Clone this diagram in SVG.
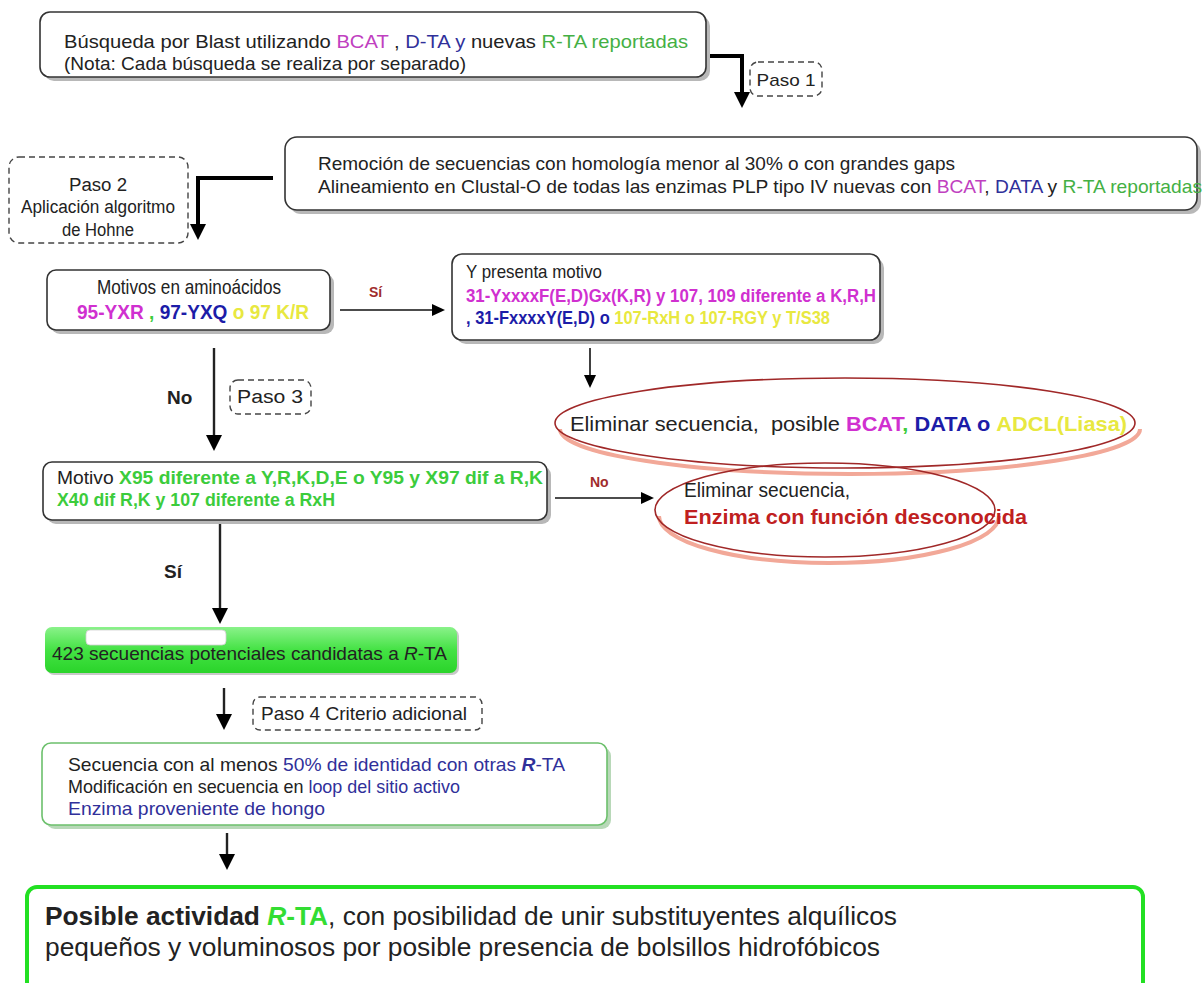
<svg xmlns="http://www.w3.org/2000/svg" width="1203" height="983" viewBox="0 0 1203 983">
  <defs>
    <style>
      text { font-family: "Liberation Sans", Arial, sans-serif; fill: #222; }
      .box { fill: #fff; stroke: #333; stroke-width: 1.6; }
      .shadow { fill: #b8b8b8; }
      .dash { fill: #fff; stroke: #444; stroke-width: 1.4; stroke-dasharray: 6 4; }
      .thick { fill: none; stroke: #000; stroke-width: 4; }
      .thin { fill: none; stroke: #111; stroke-width: 1.6; }
      .mid { fill: none; stroke: #222; stroke-width: 2.4; }
      .ell { fill: none; stroke: #a02828; stroke-width: 1.6; }
      .ellsh { fill: none; stroke: #f2a898; stroke-width: 4; }
      .b { font-weight: bold; }
      .mag { fill: #c040c0; }
      .blu { fill: #30309a; }
      .grn { fill: #44b044; }
      .bmag { fill: #d030d0; }
      .bblu { fill: #1c1ca8; }
      .byel { fill: #e8e840; }
      .bgrn { fill: #3ccc3c; }
      .red { fill: #c02020; }
      .dred { fill: #a02c2c; }
    </style>
    <marker id="ahBig" markerUnits="userSpaceOnUse" markerWidth="18" markerHeight="16" refX="1" refY="8" orient="auto">
      <path d="M0,0 L16,8 L0,16 Z" fill="#000"/>
    </marker>
    <marker id="ahSmall" markerUnits="userSpaceOnUse" markerWidth="14" markerHeight="12" refX="1" refY="6" orient="auto">
      <path d="M0,0 L13,6 L0,12 Z" fill="#000"/>
    </marker>
    <linearGradient id="greenFill" x1="0" y1="0" x2="0" y2="1">
      <stop offset="0" stop-color="#8af28a"/>
      <stop offset="0.5" stop-color="#44e244"/>
      <stop offset="1" stop-color="#2ad42a"/>
    </linearGradient>
  </defs>

  <!-- connectors -->
  <g id="connectors">
    <polyline class="thick" points="708,56 742,56 742,93" marker-end="url(#ahBig)"/>
    <polyline class="thick" points="273,178 198,178 198,225" marker-end="url(#ahBig)"/>
    <line class="thin" x1="340" y1="310" x2="433" y2="310" marker-end="url(#ahSmall)"/>
    <line class="thin" x1="590" y1="348" x2="590" y2="376" marker-end="url(#ahSmall)"/>
    <line class="mid" x1="214" y1="348" x2="214" y2="436" marker-end="url(#ahBig)"/>
    <line class="thin" x1="555" y1="498" x2="642" y2="498" marker-end="url(#ahSmall)"/>
    <line class="mid" x1="220" y1="522" x2="220" y2="609" marker-end="url(#ahBig)"/>
    <line class="mid" x1="224" y1="688" x2="224" y2="715" marker-end="url(#ahBig)"/>
    <line class="mid" x1="227" y1="833" x2="227" y2="855" marker-end="url(#ahBig)"/>
    <text class="b dred" x="369" y="297" font-size="14">Sí</text>
    <text class="b" x="167" y="404" font-size="19">No</text>
    <text class="b dred" x="590" y="487" font-size="14">No</text>
    <text class="b" x="164" y="578" font-size="19">Sí</text>
  </g>

  <!-- step labels -->
  <g id="paso1">
    <rect class="dash" x="750" y="62" width="72" height="34" rx="8"/>
    <text x="786" y="86" font-size="17" text-anchor="middle" textLength="59" lengthAdjust="spacingAndGlyphs">Paso 1</text>
  </g>
  <g id="paso2">
    <rect class="dash" x="9" y="157" width="179" height="86" rx="10"/>
    <text x="98" y="191" font-size="18" text-anchor="middle" textLength="58" lengthAdjust="spacingAndGlyphs">Paso 2</text>
    <text x="98" y="213" font-size="18" text-anchor="middle" textLength="154" lengthAdjust="spacingAndGlyphs">Aplicación algoritmo</text>
    <text x="98" y="236" font-size="18" text-anchor="middle" textLength="72" lengthAdjust="spacingAndGlyphs">de Hohne</text>
  </g>
  <g id="paso3">
    <rect class="dash" x="230" y="380" width="81" height="34" rx="8"/>
    <text x="270" y="403" font-size="18" text-anchor="middle" textLength="66" lengthAdjust="spacingAndGlyphs">Paso 3</text>
  </g>
  <g id="paso4">
    <rect class="dash" x="253" y="697" width="229" height="33" rx="7"/>
    <text x="261" y="720" font-size="19" textLength="206" lengthAdjust="spacingAndGlyphs">Paso 4 Criterio adicional</text>
  </g>

  <!-- blast search -->
  <g id="busqueda">
    <rect class="shadow" x="44" y="16" width="666" height="65" rx="10"/>
    <rect class="box" x="40" y="12" width="666" height="65" rx="10"/>
    <text x="64" y="48" font-size="19" textLength="624" lengthAdjust="spacingAndGlyphs">Búsqueda por Blast utilizando <tspan class="mag">BCAT</tspan> , <tspan class="blu">D-TA y</tspan> nuevas <tspan class="grn">R-TA reportadas</tspan></text>
    <text x="64" y="70" font-size="19" textLength="402" lengthAdjust="spacingAndGlyphs">(Nota: Cada búsqueda se realiza por separado)</text>
  </g>

  <!-- filtering and alignment -->
  <g id="remocion">
    <rect class="shadow" x="289" y="141" width="912" height="73" rx="12"/>
    <rect class="box" x="285" y="137" width="912" height="73" rx="12"/>
    <text x="318" y="170" font-size="18.5" textLength="637" lengthAdjust="spacingAndGlyphs">Remoción de secuencias con homología menor al 30% o con grandes gaps</text>
    <text x="318" y="193" font-size="18.5" textLength="884" lengthAdjust="spacingAndGlyphs">Alineamiento en Clustal-O de todas las enzimas PLP tipo IV nuevas con <tspan class="mag">BCAT</tspan>, <tspan class="blu">DATA</tspan> y <tspan class="grn">R-TA reportadas</tspan></text>
  </g>

  <!-- amino acid motifs -->
  <g id="motivos">
    <rect class="shadow" x="51" y="274" width="283" height="60" rx="9"/>
    <rect class="box" x="47" y="270" width="283" height="60" rx="9"/>
    <text x="189" y="294" font-size="21" text-anchor="middle" textLength="184" lengthAdjust="spacingAndGlyphs">Motivos en aminoácidos</text>
    <text class="b" x="77" y="319" font-size="20" textLength="232" lengthAdjust="spacingAndGlyphs"><tspan class="bmag">95-YXR</tspan> <tspan class="bgrn">,</tspan> <tspan class="bblu">97-YXQ</tspan> <tspan class="byel">o 97 K/R</tspan></text>
  </g>

  <!-- additional motif -->
  <g id="presenta">
    <rect class="shadow" x="456" y="258" width="428" height="86" rx="10"/>
    <rect class="box" x="452" y="254" width="428" height="86" rx="10"/>
    <text x="466" y="278" font-size="19" textLength="136" lengthAdjust="spacingAndGlyphs">Y presenta motivo</text>
    <text class="b bmag" x="466" y="302" font-size="17.5" textLength="410" lengthAdjust="spacingAndGlyphs">31-YxxxxF(E,D)Gx(K,R) y 107, 109 diferente a K,R,H</text>
    <text class="b" x="466" y="324" font-size="17.5" textLength="364" lengthAdjust="spacingAndGlyphs"><tspan class="bblu">, 31-FxxxxY(E,D) o</tspan> <tspan class="byel">107-RxH o 107-RGY y T/S38</tspan></text>
  </g>

  <!-- discard: known enzymes -->
  <g id="eliminar1">
    <path class="ellsh" d="M 560,429 A 290 45 0 0 0 1140,429"/>
    <ellipse class="ell" cx="845" cy="423" rx="290" ry="45"/>
    <text x="570" y="431" font-size="21" textLength="557" lengthAdjust="spacingAndGlyphs" style="white-space:pre">Eliminar secuencia,  posible <tspan class="b bmag">BCAT</tspan><tspan class="b bgrn">,</tspan> <tspan class="b bblu">DATA o</tspan> <tspan class="b byel">ADCL(Liasa)</tspan></text>
  </g>

  <!-- discard: unknown function -->
  <g id="eliminar2">
    <path class="ellsh" d="M 659,516 A 170 47 0 0 0 999,516"/>
    <ellipse class="ell" cx="825" cy="510" rx="170" ry="47"/>
    <text x="684" y="497" font-size="21" textLength="166" lengthAdjust="spacingAndGlyphs">Eliminar secuencia,</text>
    <text class="b red" x="684" y="524" font-size="21" textLength="343" lengthAdjust="spacingAndGlyphs">Enzima con función desconocida</text>
  </g>

  <!-- R-TA motif -->
  <g id="motivo-rta">
    <rect class="shadow" x="47" y="466" width="504" height="58" rx="9"/>
    <rect class="box" x="43" y="462" width="504" height="58" rx="9"/>
    <text x="57" y="484" font-size="18" textLength="486" lengthAdjust="spacingAndGlyphs">Motivo <tspan class="b bgrn">X95 diferente a Y,R,K,D,E o Y95 y X97 dif a R,K</tspan></text>
    <text class="b bgrn" x="57" y="506" font-size="18" textLength="278" lengthAdjust="spacingAndGlyphs">X40 dif R,K y 107 diferente a RxH</text>
  </g>

  <!-- candidates -->
  <g id="candidatas">
    <rect x="47" y="629" width="412" height="46" rx="7" fill="#c8c8c8"/>
    <rect x="45" y="627" width="412" height="46" rx="7" fill="url(#greenFill)"/>
    <rect x="86" y="630" width="140" height="15" rx="4" fill="#fff" stroke="#cfcfcf" stroke-width="0.8"/>
    <text x="52" y="660" font-size="19" textLength="395" lengthAdjust="spacingAndGlyphs">423 secuencias potenciales candidatas a <tspan font-style="italic">R</tspan>-TA</text>
  </g>

  <!-- additional criteria -->
  <g id="criterio">
    <rect x="46" y="747" width="565" height="82" rx="9" fill="#b8d8b8"/>
    <rect x="42" y="743" width="565" height="82" rx="9" fill="#fff" stroke="#6cc06c" stroke-width="1.6"/>
    <text x="68" y="771" font-size="18.5" textLength="497" lengthAdjust="spacingAndGlyphs">Secuencia con al menos <tspan class="blu">50% de identidad con otras <tspan class="b" font-style="italic">R</tspan>-TA</tspan></text>
    <text x="68" y="793" font-size="18.5" textLength="392" lengthAdjust="spacingAndGlyphs">Modificación en secuencia en <tspan class="blu">loop del sitio activo</tspan></text>
    <text class="blu" x="68" y="815" font-size="18.5" textLength="257" lengthAdjust="spacingAndGlyphs">Enzima proveniente de hongo</text>
  </g>

  <!-- conclusion -->
  <g id="conclusion">
    <rect x="27" y="887" width="1116" height="110" rx="10" fill="#fff" stroke="#22e022" stroke-width="4"/>
    <text x="45" y="925" font-size="25" textLength="852" lengthAdjust="spacingAndGlyphs"><tspan class="b">Posible actividad </tspan><tspan class="b" font-style="italic" fill="#33dd33">R</tspan><tspan class="b" fill="#33dd33">-TA</tspan>, con posibilidad de unir substituyentes alquílicos</text>
    <text x="45" y="956" font-size="25" textLength="835" lengthAdjust="spacingAndGlyphs">pequeños y voluminosos por posible presencia de bolsillos hidrofóbicos</text>
  </g>
</svg>
